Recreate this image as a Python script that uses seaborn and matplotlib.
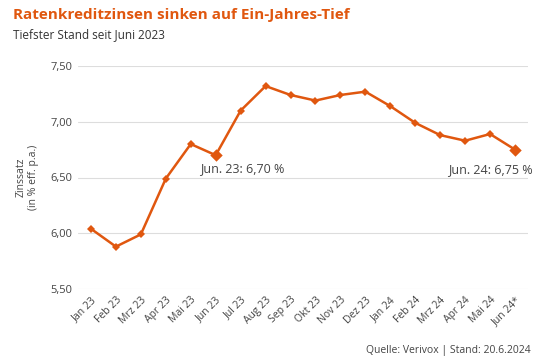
import matplotlib
matplotlib.use("Agg")
import matplotlib.pyplot as plt
import seaborn as sns
import pandas as pd

months = ["Jan 23", "Feb 23", "Mrz 23", "Apr 23", "Mai 23", "Jun 23", "Jul 23", "Aug 23",
          "Sep 23", "Okt 23", "Nov 23", "Dez 23", "Jan 24", "Feb 24", "Mrz 24", "Apr 24",
          "Mai 24", "Jun 24*"]
rates = [6.04, 5.88, 5.99, 6.49, 6.80, 6.70, 7.10, 7.32, 7.24, 7.19, 7.24, 7.27,
         7.14, 6.99, 6.88, 6.83, 6.89, 6.75]
yticks = [5.5, 6.0, 6.5, 7.0, 7.5]
ytick_labels = ["5,50", "6,00", "6,50", "7,00", "7,50"]

sns.set_theme(style="white")
plt.rcParams['font.family'] = ['Open Sans', 'DejaVu Sans']

ORANGE = "#E0570F"
df = pd.DataFrame({"x": range(len(months)), "rate": rates})

fig = plt.figure(figsize=(5.4, 3.62), dpi=100)
ax = fig.add_axes([78/540, 1-289/362, 450/540, (289-66)/362])

sns.lineplot(data=df, x="x", y="rate", ax=ax, color=ORANGE, lw=1.8,
             marker="D", markersize=4.3, markeredgewidth=0)
hl = df.iloc[[5, 17]]
ax.scatter(hl["x"], hl["rate"], marker="D", s=40, color=ORANGE, zorder=5, linewidths=0)

ax.set_xlim(-0.52, 17.52)
ax.set_ylim(5.5, 7.5)
ax.set_yticks(yticks)
ax.set_yticklabels(ytick_labels, fontsize=8, color="#444444")
ax.set_xticks(range(len(months)))
ax.set_xticklabels(months, rotation=45, ha="right", rotation_mode="anchor",
                   fontsize=7.5, color="#444444")
ax.tick_params(axis="both", length=0, pad=4)
ax.grid(axis="y", color="#dddddd", lw=0.8)
for s in ax.spines.values():
    s.set_visible(False)
ax.set_xlabel("")
ax.set_ylabel("Zinssatz\n(in % eff. p.a.)", fontsize=7.5, color="#444444", labelpad=8)

ax.annotate("Jun. 23: 6,70 %", xy=(5, 6.70), xytext=(-11.5, -9.5), textcoords="offset points",
            fontsize=9, color="#444444", ha="left", va="center")
ax.annotate("Jun. 24: 6,75 %", xy=(17, 6.75), xytext=(13, -14), textcoords="offset points",
            fontsize=9, color="#444444", ha="right", va="center")

fig.text(13/540, 1-15/362, "Ratenkreditzinsen sinken auf Ein-Jahres-Tief", fontsize=11,
         fontweight="bold", color=ORANGE, ha="left", va="center")
fig.text(13/540, 1-35/362, "Tiefster Stand seit Juni 2023", fontsize=8.5,
         color="#333333", ha="left", va="center")
fig.text(531/540, 1-351/362, "Quelle: Verivox | Stand: 20.6.2024", fontsize=7.5,
         color="#444444", ha="right", va="center")

fig.savefig("out.png", dpi=100)
